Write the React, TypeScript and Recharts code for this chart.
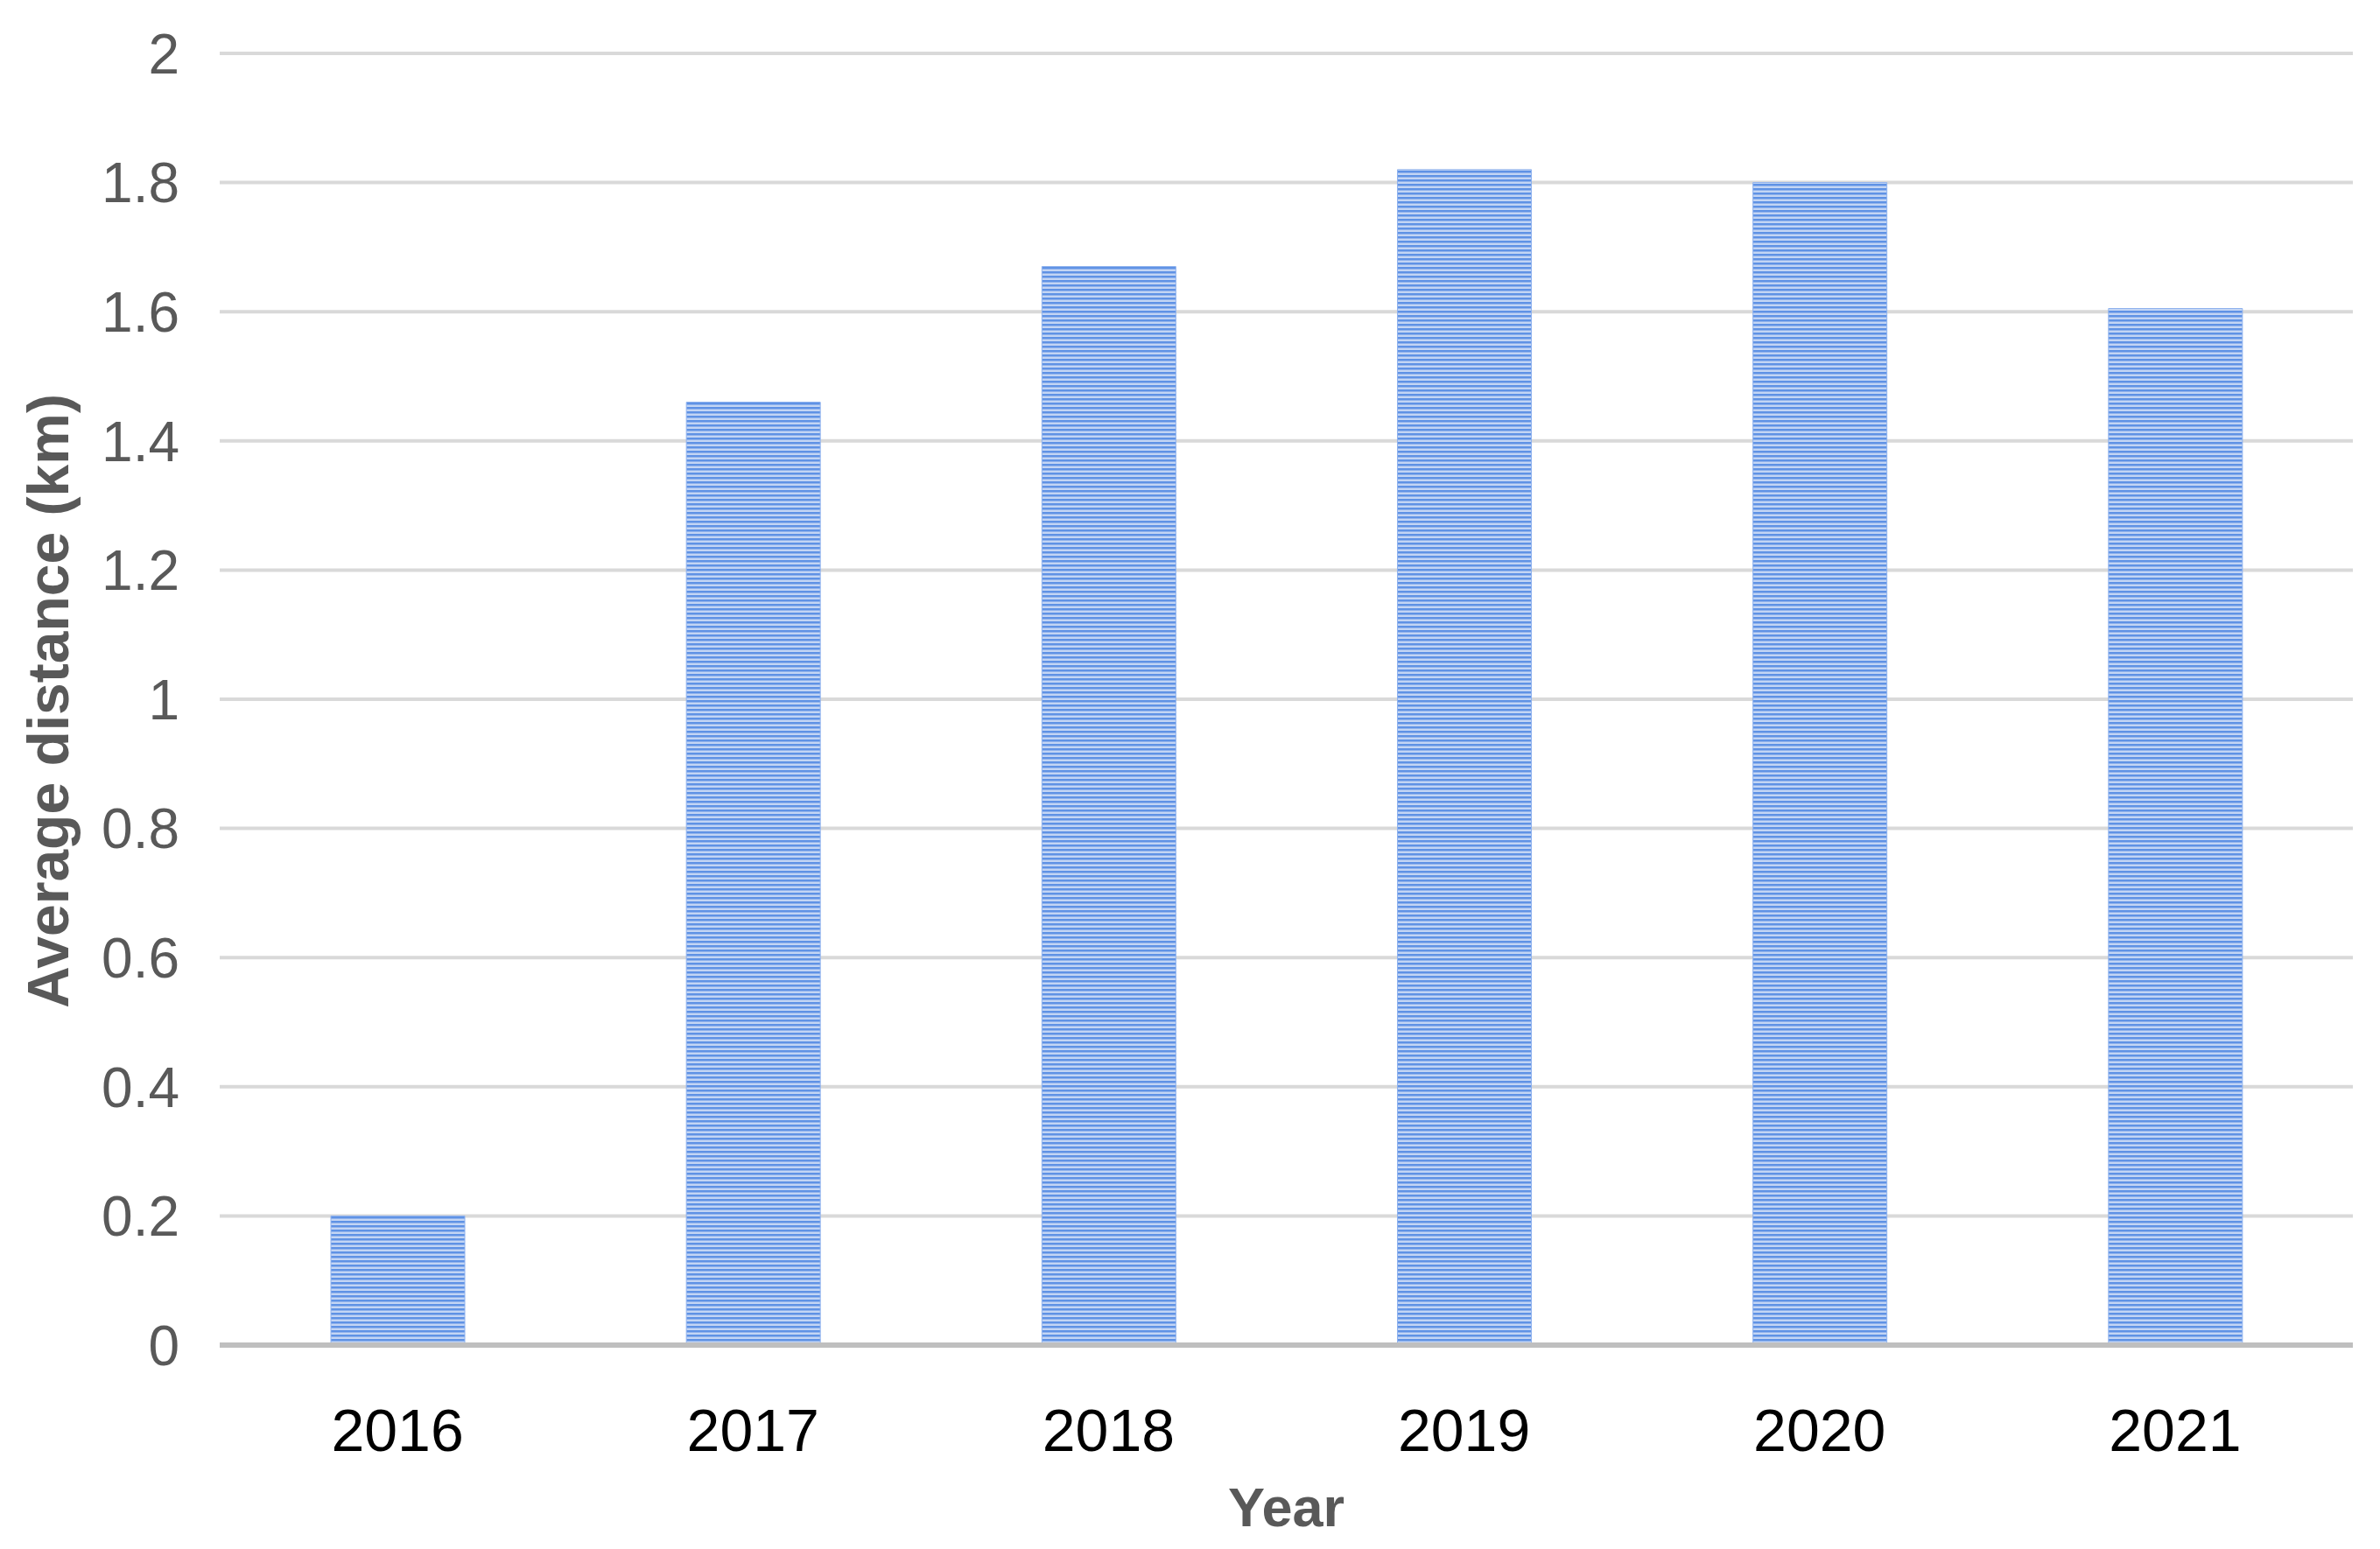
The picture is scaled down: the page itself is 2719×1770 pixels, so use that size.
import { BarChart, Bar, XAxis, YAxis, CartesianGrid, Label } from "recharts";

const years = ["2016", "2017", "2018", "2019", "2020", "2021"];
const avgDistance = [0.2, 1.46, 1.67, 1.82, 1.8, 1.605];
const yTicks = [0, 0.2, 0.4, 0.6, 0.8, 1, 1.2, 1.4, 1.6, 1.8, 2];

const FONT = '"Liberation Sans", Arial, sans-serif';

const chartData = years.map((year, i) => ({ year, distance: avgDistance[i] }));

function YTitle(props: any) {
  const vb = props.viewBox || { x: 0, y: 0, width: 0, height: 0 };
  const cx = vb.x + 55;
  const cy = vb.y + vb.height / 2 + 2;
  return (
    <text
      x={cx}
      y={cy}
      transform={`rotate(-90, ${cx}, ${cy})`}
      textAnchor="middle"
      dominantBaseline="central"
      fontFamily={FONT}
      fontWeight="bold"
      fontSize={66}
      fill="#595959"
    >
      Average distance (km)
    </text>
  );
}

function XTitle(props: any) {
  const vb = props.viewBox || { x: 0, y: 0, width: 0, height: 0 };
  return (
    <text
      x={vb.x + vb.width / 2}
      y={vb.y + 185}
      textAnchor="middle"
      dominantBaseline="central"
      fontFamily={FONT}
      fontWeight="bold"
      fontSize={63}
      fill="#595959"
    >
      Year
    </text>
  );
}

export default function App() {
  return (
    <div style={{ position: "absolute", left: 0, top: 0, background: "#fff" }}>
      <BarChart
        width={2719}
        height={1770}
        data={chartData}
        margin={{ top: 61, right: 31, left: 0, bottom: 0 }}
        barSize={153}
      >
        <defs>
          <pattern
            id="stripes"
            patternUnits="userSpaceOnUse"
            width={10}
            height={5}
          >
            <rect x={0} y={0} width={10} height={5} fill="#c3d5f4" />
            <rect x={0} y={0} width={10} height={2.5} fill="#5f92e5" />
          </pattern>
        </defs>
        <CartesianGrid
          horizontal
          vertical={false}
          stroke="#d9d9d9"
          strokeWidth={4}
        />
        <XAxis
          dataKey="year"
          height={233}
          tickLine={false}
          tickSize={0}
          tickMargin={73}
          axisLine={{ stroke: "#bfbfbf", strokeWidth: 6 }}
          tick={{ fontSize: 68, fill: "#000000", fontFamily: FONT }}
        >
          <Label content={<XTitle />} />
        </XAxis>
        <YAxis
          width={251}
          domain={[0, 2]}
          ticks={yTicks}
          interval={0}
          tickLine={false}
          axisLine={false}
          tickSize={0}
          tickMargin={46}
          tick={{ fontSize: 64, fill: "#595959", fontFamily: FONT }}
        >
          <Label content={<YTitle />} />
        </YAxis>
        <Bar
          dataKey="distance"
          fill="url(#stripes)"
          stroke="#8fb2ee"
          strokeWidth={1}
          isAnimationActive={false}
        />
      </BarChart>
    </div>
  );
}
